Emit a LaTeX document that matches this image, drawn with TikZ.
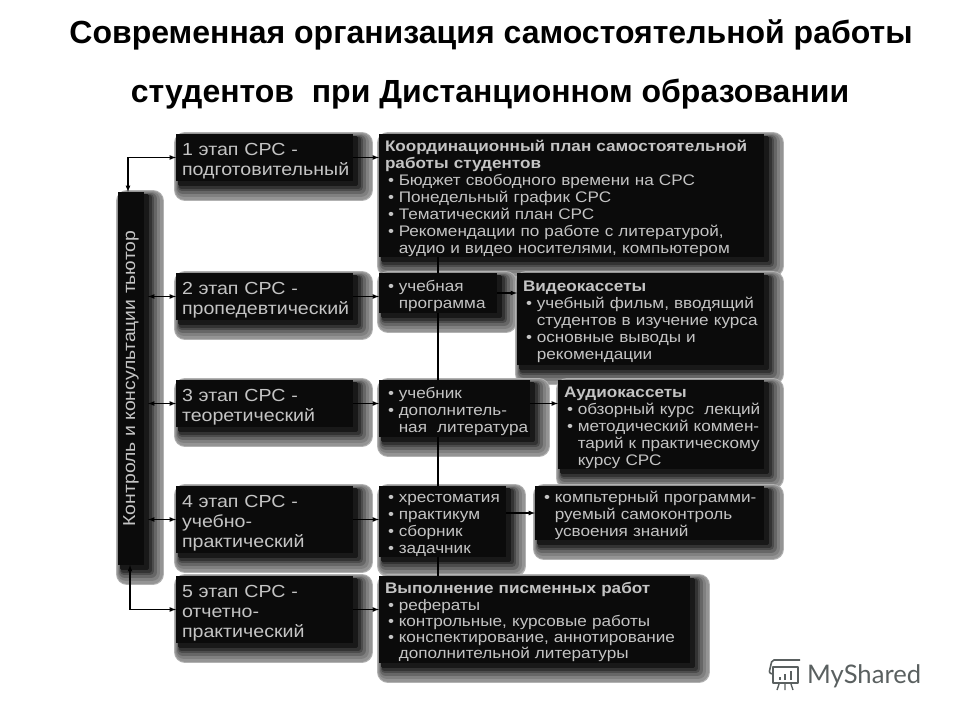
\documentclass[tikz,border=0pt]{standalone}
\usepackage{fontspec}
\usepackage{graphicx}
\usetikzlibrary{shadows}
\setmainfont{Liberation Sans}
\newfontfamily\cardfont[FakeStretch=1.12]{Liberation Sans}
\newfontfamily\logofont{Lato}
\definecolor{cardink}{HTML}{0B0B0B}
\definecolor{cardtext}{HTML}{C4C4C4}
\definecolor{logogray}{HTML}{5A6060}
\newcommand{\pnt}{\hspace*{0.2em}\makebox[0.7em][l]{\textbullet}}
\newcommand{\cnt}{\hspace*{0.9em}}
\tikzset{
  softshadow/.style={
    general shadow={fill=black!30,draw=black!30,line width=22pt,line join=round,shadow xshift=9pt,shadow yshift=-9pt},
    general shadow={fill=black!42,draw=black!42,line width=20pt,line join=round,shadow xshift=8.5pt,shadow yshift=-8.5pt},
    general shadow={fill=black!50,draw=black!50,line width=16pt,line join=round,shadow xshift=8pt,shadow yshift=-8pt},
    general shadow={fill=black!60,draw=black!60,line width=12pt,line join=round,shadow xshift=7pt,shadow yshift=-7pt},
    general shadow={fill=black!70,draw=black!70,line width=8pt,line join=round,shadow xshift=6pt,shadow yshift=-6pt},
    general shadow={fill=black!80,draw=black!80,line width=5pt,line join=round,shadow xshift=5pt,shadow yshift=-5pt},
    general shadow={fill=black!90,draw=black!90,line width=3pt,line join=round,shadow xshift=3.5pt,shadow yshift=-3.5pt}},
  cardbox/.style={softshadow,fill=cardink,text=cardtext,anchor=north west,align=left,inner xsep=2pt,inner ysep=0pt,outer sep=0pt,execute at begin node={\leftskip=4pt\relax\rule{0pt}{1.1em}}},
  stagebox/.style={cardbox,text width=173,font=\cardfont\fontsize{17.5}{20}\selectfont},
  listbox/.style={cardbox,font=\cardfont\fontsize{15.3}{17}\selectfont},
  titletext/.style={font=\fontsize{32}{38}\selectfont\bfseries},
  conn/.style={line width=1.2pt,black}
}
\begin{document}
\begin{tikzpicture}[x=1pt,y=-1pt,>=latex]
  \useasboundingbox (0,0) rectangle (960,720);
  \node[titletext] (title1) at (491,35) {Современная организация самостоятельной работы};
  \node[titletext] (title2) at (490,94) {студентов \ при Дистанционном образовании};

  \node[cardbox,minimum width=26,minimum height=373,font=\cardfont\fontsize{17.3}{20}\selectfont,align=center,inner xsep=0pt,execute at begin node={}] (tutor) at (118,192)
    {\rotatebox{90}{Контроль и консультации тьютор}};

  \node[stagebox,minimum height=47] (stage1) at (176,134) {1 этап СРС -\\подготовительный};
  \node[stagebox,minimum height=47] (stage2) at (176,273) {2 этап СРС -\\пропедевтический};
  \node[stagebox,minimum height=47] (stage3) at (176,380) {3 этап СРС -\\теоретический};
  \node[stagebox,minimum height=67] (stage4) at (176,486) {4 этап СРС -\\учебно-\\практический};
  \node[stagebox,minimum height=67] (stage5) at (176,576) {5 этап СРС -\\отчетно-\\практический};

  \node[listbox,text width=381,minimum height=123] (plan) at (379,134) {\textbf{Координационный план самостоятельной}\\
    \textbf{работы студентов}\\
    \pnt Бюджет свободного времени на СРС\\
    \pnt Понедельный график СРС\\
    \pnt Тематический план СРС\\
    \pnt Рекомендации по работе с литературой,\\
    \cnt аудио и видео носителями, компьютером};
  \node[listbox,text width=114,minimum height=40] (prog) at (379,273) {\pnt учебная\\ \cnt программа};
  \node[listbox,text width=243,minimum height=92] (video) at (517,273) {\textbf{Видеокассеты}\\
    \pnt учебный фильм, вводящий\\
    \cnt студентов в изучение курса\\
    \pnt основные выводы и\\
    \cnt рекомендации};
  \node[listbox,text width=147,minimum height=57] (uchebnik) at (379,380) {\pnt учебник\\
    \pnt дополнитель-\\
    \cnt ная~~литература};
  \node[listbox,text width=202,minimum height=89] (audio) at (558,380) {\textbf{Аудиокассеты}\\
    \pnt обзорный курс \ лекций\\
    \pnt методический коммен-\\
    \cnt тарий к практическому\\
    \cnt курсу СРС};
  \node[listbox,text width=123,minimum height=67] (hrest) at (379,486) {\pnt хрестоматия\\
    \pnt практикум\\
    \pnt сборник\\
    \pnt задачник};
  \node[listbox,text width=225,minimum height=52,execute at begin node={\leftskip=4pt\relax}] (comp) at (535,486) {\pnt компьтерный программи-\\
    \cnt руемый самоконтроль\\
    \cnt усвоения знаний};
  \node[listbox,text width=307,minimum height=87,font=\cardfont\fontsize{15.3}{16.2}\selectfont] (vyp) at (379,576) {\textbf{Выполнение писменных работ}\\
    \pnt рефераты\\
    \pnt контрольные, курсовые работы\\
    \pnt конспектирование, аннотирование\\
    \cnt дополнительной литературы};

  % spine between the middle boxes
  \coordinate (spine) at (438,0);
  \foreach \a/\b in {plan/prog,prog/uchebnik,uchebnik/hrest,hrest/vyp}
    \draw[conn] (\a.south -| spine) -- (\b.north -| spine);

  \foreach \a/\b in {stage1/plan,stage2/prog,stage3/uchebnik,stage4/hrest,stage5/vyp}
    \draw[conn,->] (\a.east) -- (\a.east -| \b.west);
  \draw[conn,->] (prog.east) -- (prog.east -| video.west);
  \draw[conn,->] (stage3.east -| uchebnik.east) -- (stage3.east -| audio.west);
  \draw[conn,->] (comp.west -| hrest.east) -- (comp.west);

  \draw[conn,<->] ([xshift=-3pt]tutor.north) |- (stage1.west);
  \draw[conn,<->] ([xshift=-1pt]tutor.south) |- (stage5.west);
  \foreach \a in {stage2,stage3,stage4}
    \draw[conn,<->] ([xshift=4pt]\a.west -| tutor.east) -- (\a.west);

  % logo
  \node[font=\logofont\fontsize{25.6}{30}\selectfont,text=logogray,anchor=base west,inner sep=0pt] (logotext) at (807,683) {MyShared};
  \draw[logogray,line width=1.6pt,line join=round] (773,667) rectangle (798,683);
  \draw[logogray,line width=1.6pt,rounded corners=2pt] (800,660) -- (772,660) -- (769,673) -- (773,674);
  \draw[logogray,line width=2.4pt] (780,680) -- (780,677) (785,680) -- (785,674) (791,680) -- (791,671);
  \draw[logogray,line width=1.4pt] (779,684) -- (777,690) (785,684) -- (785,690) (791,684) -- (793,690);
\end{tikzpicture}
\end{document}
